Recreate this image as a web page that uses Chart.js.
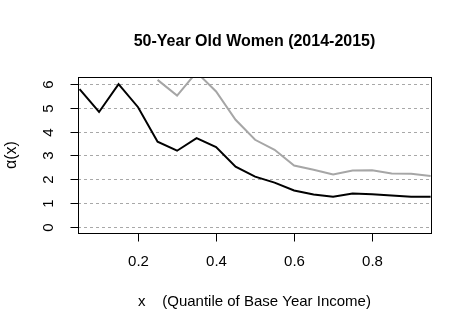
<!DOCTYPE html>
<html>
<head>
<meta charset="utf-8">
<script src="https://cdn.jsdelivr.net/npm/chart.js@4"></script>
<style>
html,body{margin:0;padding:0;background:#fff;}
#wrap{width:472px;height:331px;}
</style>
</head>
<body>
<div id="wrap"><canvas id="c" width="472" height="331"></canvas></div>
<script>
const titleText = "50-Year Old Women (2014-2015)";
const xAxisTitle = "x    (Quantile of Base Year Income)";
const yAxisTitle = "\u03b1(x)";
const quantiles = [0.05,0.10,0.15,0.20,0.25,0.30,0.35,0.40,0.45,0.50,0.55,0.60,0.65,0.70,0.75,0.80,0.85,0.90,0.95];
const blackSeries = [5.79,4.83,6.00,5.03,3.58,3.20,3.73,3.35,2.53,2.11,1.86,1.53,1.36,1.26,1.40,1.37,1.32,1.26,1.26];
const graySeries = [null,null,null,null,6.18,5.52,6.50,5.69,4.50,3.66,3.24,2.58,2.40,2.20,2.37,2.38,2.24,2.23,2.14];
const xTicks = [0.2,0.4,0.6,0.8];
const xTickLabels = ["0.2","0.4","0.6","0.8"];
const yTicks = [0,1,2,3,4,5,6];
const yTickLabels = ["0","1","2","3","4","5","6"];

const FONT = '"Liberation Sans", Arial, sans-serif';

const rAxes = {
  id: 'rAxes',
  beforeDatasetsDraw(chart) {
    const {ctx, chartArea: a, scales: {x, y}} = chart;
    ctx.save();
    ctx.strokeStyle = '#a8a8a8';
    ctx.lineWidth = 1;
    ctx.setLineDash([3, 3]);
    yTicks.forEach(v => {
      const py = Math.round(y.getPixelForValue(v)) + 0.5;
      ctx.beginPath(); ctx.moveTo(a.left, py); ctx.lineTo(a.right, py); ctx.stroke();
    });
    ctx.restore();
  },
  afterDatasetsDraw(chart) {
    const {ctx, chartArea: a, scales: {x, y}} = chart;
    ctx.save();
    ctx.strokeStyle = '#000';
    ctx.lineWidth = 1;
    ctx.setLineDash([]);
    const L = Math.round(a.left) + 0.5, R = Math.round(a.right) + 0.5;
    const T = Math.round(a.top) + 0.5, B = Math.round(a.bottom) + 0.5;
    ctx.strokeRect(L, T, R - L, B - T);
    ctx.fillStyle = '#000';
    ctx.font = '15px ' + FONT;
    yTicks.forEach((v, i) => {
      const py = Math.round(y.getPixelForValue(v)) + 0.5;
      ctx.beginPath(); ctx.moveTo(L - 8, py); ctx.lineTo(L, py); ctx.stroke();
      ctx.save();
      ctx.translate(49, py);
      ctx.rotate(-Math.PI / 2);
      ctx.textAlign = 'center';
      ctx.textBaseline = 'middle';
      ctx.fillText(yTickLabels[i], 0, 0);
      ctx.restore();
    });
    xTicks.forEach((v, i) => {
      const px = Math.round(x.getPixelForValue(v)) + 0.5;
      ctx.beginPath(); ctx.moveTo(px, B); ctx.lineTo(px, B + 8); ctx.stroke();
      ctx.textAlign = 'center';
      ctx.textBaseline = 'middle';
      ctx.fillText(xTickLabels[i], px, 262);
    });
    const cx = (a.left + a.right) / 2, cy = (a.top + a.bottom) / 2;
    ctx.textAlign = 'center';
    ctx.textBaseline = 'middle';
    ctx.fillText(xAxisTitle, cx, 302);
    ctx.save();
    ctx.translate(12, cy);
    ctx.rotate(-Math.PI / 2);
    ctx.font = '16px ' + FONT;
    ctx.fillText(yAxisTitle, 0, 0);
    ctx.restore();
    ctx.font = 'bold 16px ' + FONT;
    ctx.fillText(titleText, cx, 42);
    ctx.restore();
  }
};

const toPts = arr => quantiles.map((q, i) => ({x: q, y: arr[i]}));

new Chart(document.getElementById('c'), {
  type: 'line',
  data: {
    datasets: [
      {label: 'gray', data: toPts(graySeries), borderColor: '#a6a6a6', borderWidth: 2, pointRadius: 0, tension: 0, spanGaps: false},
      {label: 'black', data: toPts(blackSeries), borderColor: '#000000', borderWidth: 2, pointRadius: 0, tension: 0}
    ]
  },
  options: {
    responsive: false,
    animation: false,
    devicePixelRatio: 1,
    layout: {padding: {left: 78, right: 41, top: 77, bottom: 98}},
    plugins: {legend: {display: false}, tooltip: {enabled: false}, title: {display: false}},
    scales: {
      x: {type: 'linear', display: false, min: 0.046, max: 0.951},
      y: {type: 'linear', display: false, min: -0.26, max: 6.3}
    }
  },
  plugins: [rAxes]
});
</script>
</body>
</html>
